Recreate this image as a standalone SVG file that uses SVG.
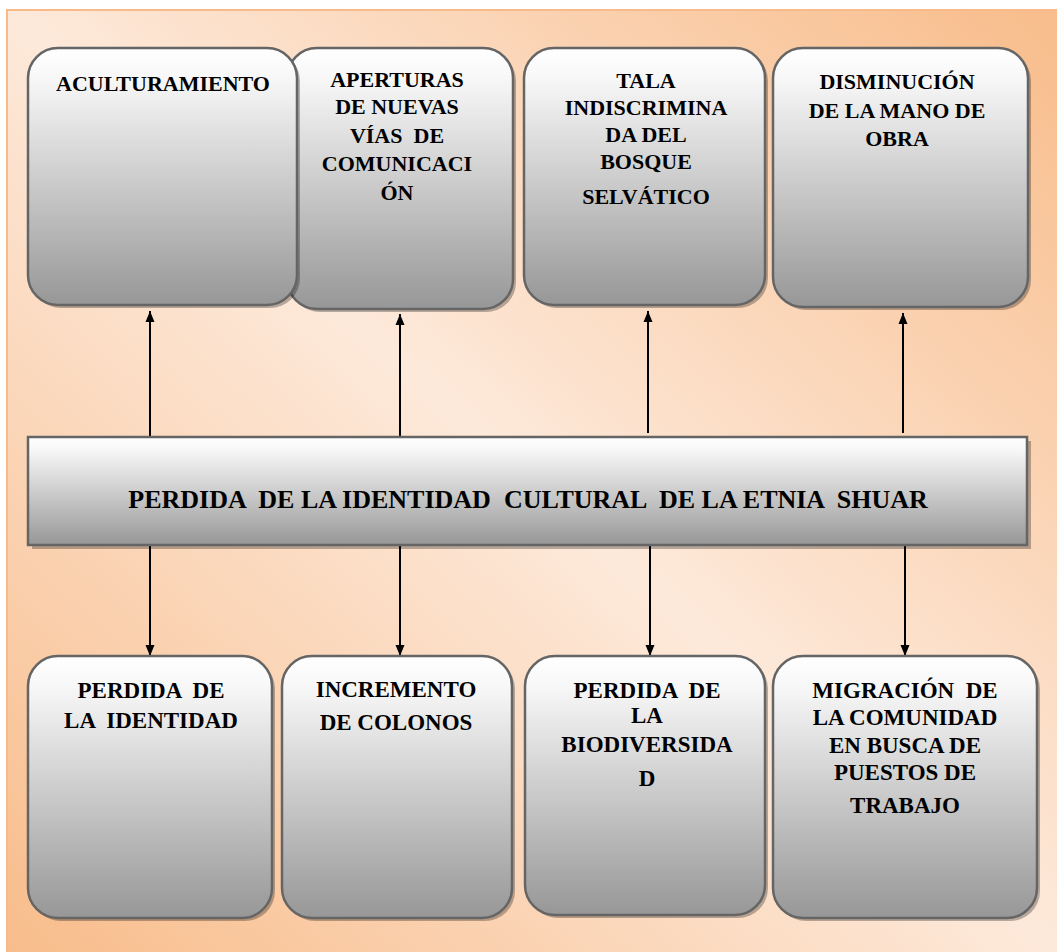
<svg xmlns="http://www.w3.org/2000/svg" width="1057" height="952" viewBox="0 0 1057 952">
<defs>
<linearGradient id="bg" x1="0" y1="1" x2="1" y2="0">
<stop offset="0" stop-color="#F8BC8A"/>
<stop offset="0.5" stop-color="#FDE9DA"/>
<stop offset="1" stop-color="#F8BC8A"/>
</linearGradient>
<linearGradient id="box" x1="0" y1="0" x2="0" y2="1">
<stop offset="0" stop-color="#FFFFFF"/>
<stop offset="0.12" stop-color="#F7F7F7"/>
<stop offset="1" stop-color="#979797"/>
</linearGradient>
<marker id="ah" markerUnits="userSpaceOnUse" markerWidth="12" markerHeight="12" viewBox="0 0 12 12" refX="11" refY="6" orient="auto">
<path d="M0,1.5 L11,6 L0,10.5 Z" fill="#000"/>
</marker>
<style>
.sh{fill:#000;fill-opacity:0.28}
.bx{fill:url(#box);stroke:#656565;stroke-width:2.5}
.t{font-weight:bold;fill:#000;text-anchor:middle}
.t1{font-size:22px}
.t2{font-size:23px}
.t3{font-size:26px;white-space:pre}
.c{stroke:#000;stroke-width:2;fill:none;marker-end:url(#ah)}
</style>
</defs>
<rect x="7" y="10" width="1062" height="952" fill="url(#bg)" stroke="#F7BA88" stroke-width="2"/>
<g id="connectors">
<line class="c" x1="150" y1="437" x2="150" y2="311"/>
<line class="c" x1="400" y1="441" x2="400" y2="314"/>
<line class="c" x1="648" y1="433" x2="648" y2="311"/>
<line class="c" x1="903" y1="433" x2="903" y2="313"/>
<line class="c" x1="150" y1="546" x2="150" y2="656"/>
<line class="c" x1="400" y1="546" x2="400" y2="656"/>
<line class="c" x1="650" y1="546" x2="650" y2="656"/>
<line class="c" x1="905" y1="546" x2="905" y2="656"/>
</g>
<g font-family="'Liberation Serif', 'DejaVu Serif', serif">
<g id="n2">
<rect class="sh" x="290" y="51" width="226" height="261" rx="30"/>
<rect class="bx" x="287" y="48" width="226" height="261" rx="30"/>
<text class="t t1" x="397" y="87">APERTURAS</text>
<text class="t t1" x="397" y="114">DE NUEVAS</text>
<text class="t t1" x="397" y="143" style="white-space:pre">VÍAS  DE</text>
<text class="t t1" x="397" y="171">COMUNICACI</text>
<text class="t t1" x="397" y="200">ÓN</text>
</g>
<g id="n1">
<rect class="sh" x="31" y="51" width="269" height="257" rx="30"/>
<rect class="bx" x="28" y="48" width="269" height="257" rx="30"/>
<text class="t t1" x="163" y="91">ACULTURAMIENTO</text>
</g>
<g id="n3">
<rect class="sh" x="527" y="51" width="241" height="257" rx="30"/>
<rect class="bx" x="524" y="48" width="241" height="257" rx="30"/>
<text class="t t1" x="646" y="88">TALA</text>
<text class="t t1" x="646" y="115">INDISCRIMINA</text>
<text class="t t1" x="646" y="142">DA DEL</text>
<text class="t t1" x="646" y="169">BOSQUE</text>
<text class="t t1" x="646" y="204">SELVÁTICO</text>
</g>
<g id="n4">
<rect class="sh" x="776" y="51" width="255" height="259" rx="30"/>
<rect class="bx" x="773" y="48" width="255" height="259" rx="30"/>
<text class="t t1" x="897" y="89">DISMINUCIÓN</text>
<text class="t t1" x="897" y="118">DE LA MANO DE</text>
<text class="t t1" x="897" y="146">OBRA</text>
</g>
<g id="center">
<rect class="sh" x="32" y="441" width="999" height="108"/>
<rect class="bx" x="28" y="437" width="999" height="108"/>
<text class="t t3" x="528" y="508">PERDIDA  DE LA IDENTIDAD  CULTURAL  DE LA ETNIA  SHUAR</text>
</g>
<g id="n5">
<rect class="sh" x="31" y="659" width="244" height="262" rx="30"/>
<rect class="bx" x="28" y="656" width="244" height="262" rx="30"/>
<text class="t t2" x="151" y="698" style="white-space:pre">PERDIDA  DE</text>
<text class="t t2" x="151" y="728" style="white-space:pre">LA  IDENTIDAD</text>
</g>
<g id="n6">
<rect class="sh" x="285" y="659" width="230" height="262" rx="30"/>
<rect class="bx" x="282" y="656" width="230" height="262" rx="30"/>
<text class="t t2" x="396" y="697">INCREMENTO</text>
<text class="t t2" x="396" y="730">DE COLONOS</text>
</g>
<g id="n7">
<rect class="sh" x="528" y="659" width="240" height="259" rx="30"/>
<rect class="bx" x="525" y="656" width="240" height="259" rx="30"/>
<text class="t t2" x="647" y="698" style="white-space:pre">PERDIDA  DE</text>
<text class="t t2" x="647" y="723">LA</text>
<text class="t t2" x="647" y="752">BIODIVERSIDA</text>
<text class="t t2" x="647" y="786">D</text>
</g>
<g id="n8">
<rect class="sh" x="776" y="659" width="264" height="262" rx="30"/>
<rect class="bx" x="773" y="656" width="264" height="262" rx="30"/>
<text class="t t2" x="905" y="698" style="white-space:pre">MIGRACIÓN  DE</text>
<text class="t t2" x="905" y="725">LA COMUNIDAD</text>
<text class="t t2" x="905" y="753">EN BUSCA DE</text>
<text class="t t2" x="905" y="780">PUESTOS DE</text>
<text class="t t2" x="905" y="813">TRABAJO</text>
</g>
</g>
</svg>
